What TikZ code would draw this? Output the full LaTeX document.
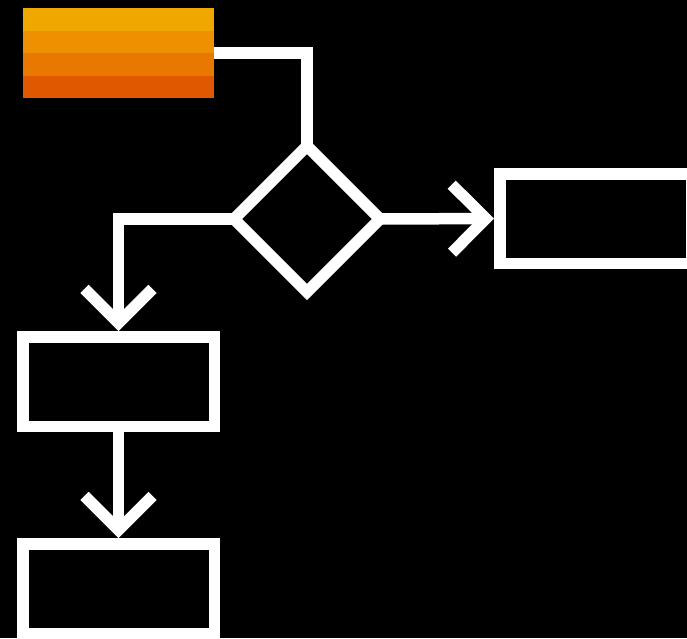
\documentclass[tikz,border=0pt]{standalone}
\usetikzlibrary{shapes.geometric,arrows.meta,calc}
\definecolor{orA}{RGB}{240,168,0}
\definecolor{orB}{RGB}{238,144,0}
\definecolor{orC}{RGB}{232,120,0}
\definecolor{orD}{RGB}{224,88,0}
\tikzset{
  flow/.style={draw=white, line width=11.5pt},
  box/.style={flow, rectangle, inner sep=0pt, minimum width=191.5pt, minimum height=89.5pt},
  decision/.style={flow, diamond, inner sep=0pt, outer sep=0pt, minimum width=146pt, minimum height=146pt},
  link/.style={draw=white, line width=11.5pt, line join=miter},
  arrowlink/.style={link, -{Straight Barb[length=34pt,width=68pt,sharp]}},
  startbox/.style={inner sep=0pt, outer sep=0pt, minimum width=191pt, minimum height=90pt,
    path picture={
      \foreach \c/\a/\b in {orA/0/0.25, orB/0.25/0.5, orC/0.5/0.75, orD/0.75/1}
        \fill[\c] ($(path picture bounding box.north west)!\a!(path picture bounding box.south west)$)
          rectangle ($(path picture bounding box.north east)!\b!(path picture bounding box.south east)$);
    }},
}
\begin{document}
\begin{tikzpicture}[x=1pt,y=-1pt]
\useasboundingbox (0,0) rectangle (687,638);
\fill[black] (0,0) rectangle (687,638);
\begin{scope}
\clip (0,0) rectangle (687,638);
\node[startbox] (start) at (118.5,53) {};
\node[decision] (dec) at (307,219) {};
\node[box] (right) at (595.5,218.5) {};
\node[box] (mid) at (118.5,381.5) {};
\node[box] (low) at (118.5,588.5) {};
\draw[link] (start.east) -| (dec.north);
\draw[arrowlink] (dec.east) -- (right.west);
\draw[arrowlink] (dec.west) -| (mid.north);
\draw[arrowlink] (mid.south) -- (low.north);
\end{scope}
\end{tikzpicture}
\end{document}
